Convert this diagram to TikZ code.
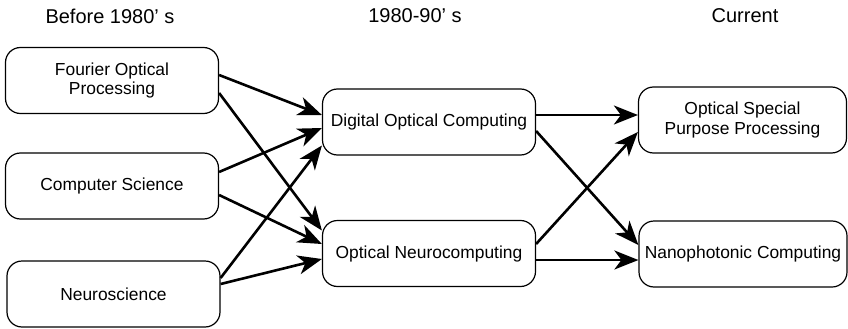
\documentclass[tikz,border=0pt]{standalone}
\usepackage{fontspec}
\setmainfont{Liberation Sans}
\usetikzlibrary{arrows.meta}
\tikzset{
  box/.style={draw, line width=1.2pt, rounded corners=15pt, minimum width=213pt,
    minimum height=66pt, align=center, inner sep=0pt,
    font=\fontsize{17.4}{19.5}\selectfont},
  head/.style={font=\fontsize{20}{24}\selectfont, inner sep=0pt},
  flow/.style={line width=2.6pt, -{Stealth[length=24pt, width=19pt, inset=7pt]}}
}
\begin{document}
\begin{tikzpicture}[x=1pt,y=-1pt]
\useasboundingbox (0,0) rectangle (848,329);
% column headings
\node[head] (h1) at (110,16) {Before 1980’ s};
\node[head] (h2) at (415,16) {1980-90’ s};
\node[head] (h3) at (745,16) {Current};
% first column
\node[box] (fo) at (112,80.5) {Fourier Optical\\Processing};
\node[box] (cs) at (112,186) {Computer Science};
\node[box] (ns) at (113.5,294) {Neuroscience};
% second column
\node[box] (doc) at (429,122) {Digital Optical Computing};
\node[box] (on) at (429,253.5) {Optical Neurocomputing};
% third column
\node[box, minimum width=208pt] (osp) at (742.5,120) {Optical Special\\Purpose Processing};
\node[box, minimum width=208pt] (nc) at (743,254) {Nanophotonic Computing};
% connectors
\draw[flow] ([yshift=5.5pt]fo.east) -- ([yshift=7pt]doc.west);
\draw[flow] ([yshift=-12.5pt]fo.east) -- ([yshift=23pt]on.west);
\draw[flow] ([yshift=14pt]cs.east) -- ([yshift=-6pt]doc.west);
\draw[flow] ([yshift=-9pt]cs.east) -- ([yshift=9.5pt]on.west);
\draw[flow] ([yshift=16pt]ns.east) -- ([yshift=-23.5pt]doc.west);
\draw[flow] ([yshift=10pt]ns.east) -- ([yshift=-5.5pt]on.west);
\draw[flow] ([yshift=7pt]doc.east) -- ([yshift=5pt]osp.west);
\draw[flow] ([yshift=-9pt]doc.east) -- ([yshift=9pt]nc.west);
\draw[flow] ([yshift=9.5pt]on.east) -- ([yshift=-12pt]osp.west);
\draw[flow] ([yshift=-6.5pt]on.east) -- ([yshift=-6pt]nc.west);
\end{tikzpicture}
\end{document}
